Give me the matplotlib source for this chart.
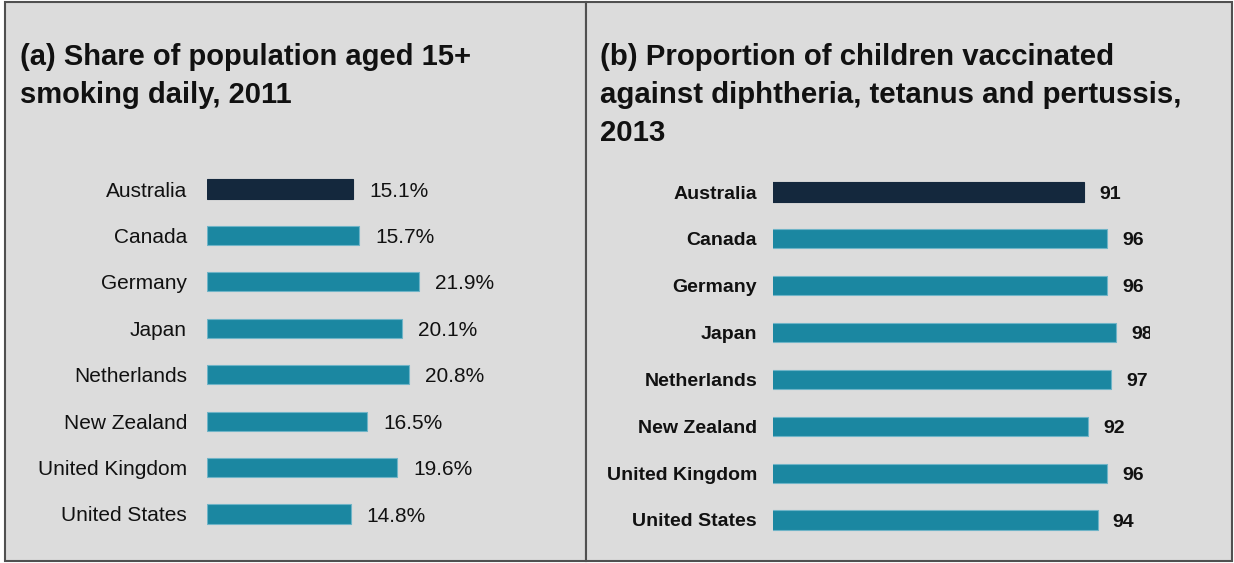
import matplotlib
matplotlib.use("Agg")
import matplotlib.pyplot as plt
from matplotlib.patches import Rectangle

# Data
countries = ["Australia", "Canada", "Germany", "Japan", "Netherlands",
             "New Zealand", "United Kingdom", "United States"]
smoking_pct = [15.1, 15.7, 21.9, 20.1, 20.8, 16.5, 19.6, 14.8]
dtp_vaccinated = [91, 96, 96, 98, 97, 92, 96, 94]
highlight = "Australia"

title_a = "(a) Share of population aged 15+\nsmoking daily, 2011"
title_b = ("(b) Proportion of children vaccinated\n"
           "against diphtheria, tetanus and pertussis,\n2013")

# Style
NAVY = "#14283d"
TEAL = "#1b87a1"
TEAL_EDGE = "#6fb4c7"
PANEL = "#dcdcdc"
BORDER = "#505050"
TEXT = "#111111"

plt.rcParams["font.family"] = ["Liberation Sans", "DejaVu Sans"]

W, H = 1234, 563
fig = plt.figure(figsize=(W / 100, H / 100), dpi=100)
fig.patch.set_facecolor("white")


def px_box(x0, y0, x1, y1):
    """Pixel box measured from the top-left corner -> figure fraction [l, b, w, h]."""
    return [x0 / W, 1 - y1 / H, (x1 - x0) / W, (y1 - y0) / H]


# Panel backgrounds with borders
for x0, x1 in [(5, 586), (586, 1232)]:
    l, b, w, h = px_box(x0, 2, x1, 561)
    fig.add_artist(Rectangle((l, b), w, h, transform=fig.transFigure,
                             facecolor=PANEL, edgecolor=BORDER,
                             linewidth=1.5, zorder=0))


def bar_panel(rect, values, xlim, fmt, weight, size, label_pad, value_pad, clip):
    ax = fig.add_axes(rect)
    ax.set_facecolor("none")
    ypos = list(range(len(countries)))
    colors = [NAVY if c == highlight else TEAL for c in countries]
    edges = [NAVY if c == highlight else TEAL_EDGE for c in countries]
    ax.barh(ypos, values, height=0.41, color=colors, edgecolor=edges,
            linewidth=0.8)
    ax.set_xlim(*xlim)
    ax.set_ylim(len(countries) - 0.5, -0.5)
    ax.set_yticks(ypos, countries, fontsize=size, fontweight=weight, color=TEXT)
    ax.tick_params(axis="y", length=0, pad=label_pad)
    ax.set_xticks([])
    for s in ax.spines.values():
        s.set_visible(False)
    for yi, v in zip(ypos, values):
        ax.annotate(fmt.format(v), xy=(v, yi), xytext=(value_pad, -1.5),
                    textcoords="offset points", ha="left", va="center",
                    fontsize=size, fontweight=weight, color=TEXT,
                    clip_on=clip)
    return ax


# (a) daily smokers
bar_panel(px_box(207, 165.8, 560, 537.2), smoking_pct, (0, 36.4),
          "{:.1f}%", "normal", 15, 14.4, 11.5, False)

# (b) DTP vaccination
bar_panel(px_box(773, 168.6, 1150, 543.4), dtp_vaccinated,
          (23.6, 23.6 + 377 / 4.61), "{:d}", "bold", 14, 11.5, 11, True)

# Panel titles
fig.text(20 / W, 1 - 43 / H, title_a, ha="left", va="top", fontsize=21,
         fontweight="bold", color=TEXT, linespacing=1.46)
fig.text(600 / W, 1 - 43 / H, title_b, ha="left", va="top", fontsize=21.2,
         fontweight="bold", color=TEXT, linespacing=1.46)

fig.savefig("out.png", dpi=100, facecolor="white")
